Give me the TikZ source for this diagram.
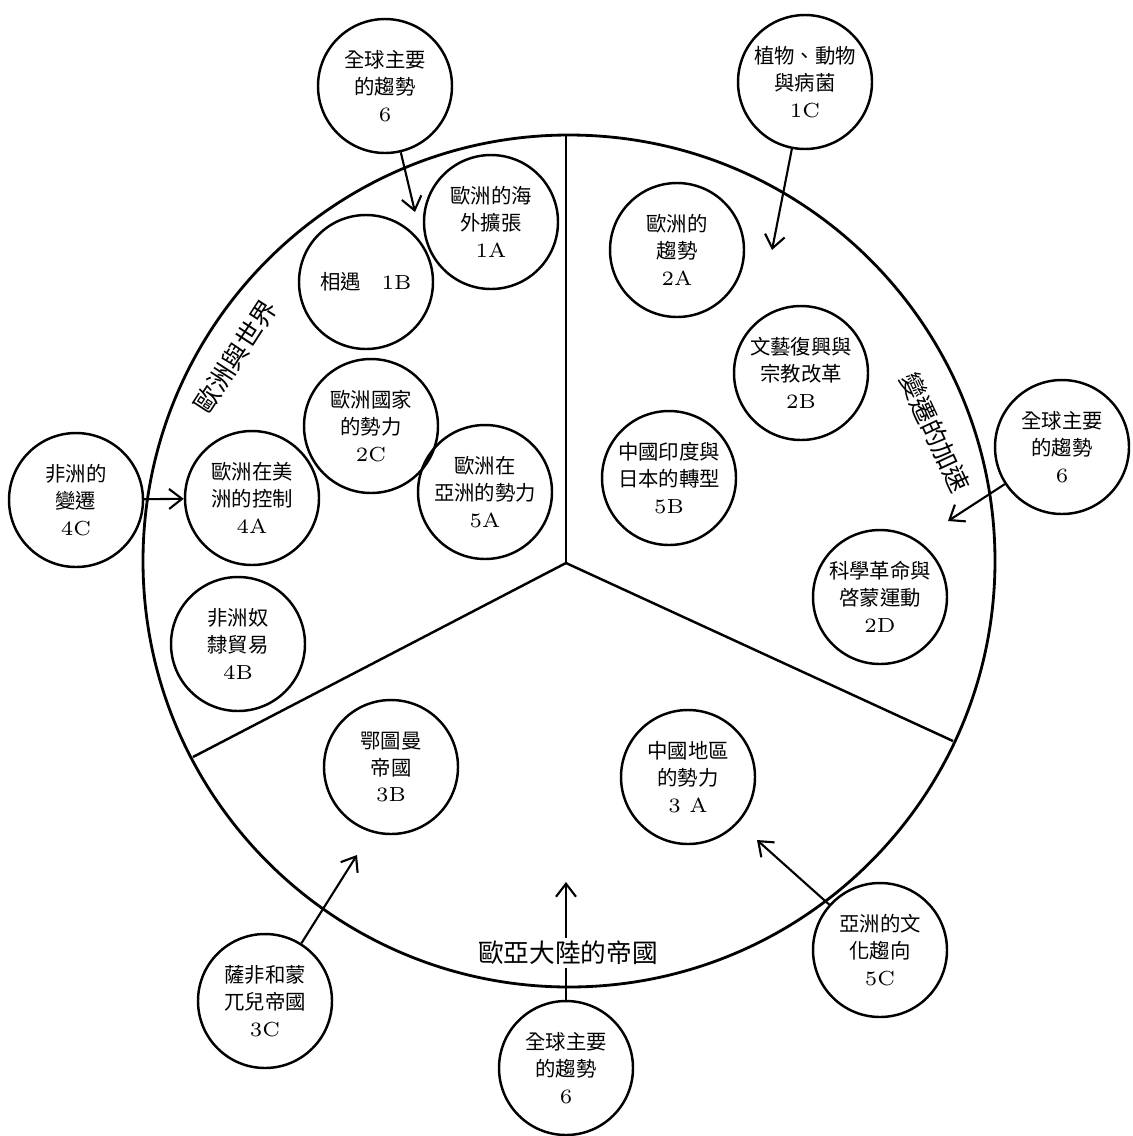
\documentclass[tikz,border=0pt]{standalone}
\usepackage{fontspec}
\newfontfamily\cjk{Noto Sans CJK TC}
\usetikzlibrary{arrows.meta}
\newcommand{\topicno}[1]{{\rmfamily #1}}

\begin{document}
\begin{tikzpicture}[
        x=0.1mm, y=-0.1mm,
        topic/.style={circle, draw, line width=0.7pt, minimum size=13.4mm, inner sep=0pt, align=center, font=\fontsize{5.8}{7.6}\selectfont\cjk},
        part/.style={font=\fontsize{7.3}{8}\selectfont\cjk, inner sep=1pt},
        link/.style={line width=0.6pt, -{Straight Barb[length=1.3mm,width=2mm]}}
    ]
        \useasboundingbox (0,0) rectangle (1132,1136);

        % the wheel and its three parts
        \node [circle, draw, line width=0.8pt, minimum size=85.2mm, inner sep=0pt] (wheel) at (569,561) {};
        \coordinate (hub) at (566,563);
        \coordinate (rimtop) at (566,135);
        \coordinate (rimleft) at (193,757);
        \coordinate (rimright) at (953,741);
        \draw [line width=0.7pt] (hub) -- (rimtop);
        \draw [line width=0.7pt] (hub) -- (rimleft);
        \draw [line width=0.7pt] (hub) -- (rimright);

        % topics inside
        \node [topic] (t1a) at (491,222) {歐洲的海\\外擴張\\\topicno{1A}};
        \node [topic] (t1b) at (366,282) {相遇\quad\topicno{1B}};
        \node [topic] (t2c) at (371,426) {歐洲國家\\的勢力\\\topicno{2C}};
        \node [topic] (t4a) at (252,498) {歐洲在美\\洲的控制\\\topicno{4A}};
        \node [topic] (t5a) at (485,492) {歐洲在\\亞洲的勢力\\\topicno{5A}};
        \node [topic] (t4b) at (238,644) {非洲奴\\隸貿易\\\topicno{4B}};
        \node [topic] (t2a) at (677,250) {歐洲的\\趨勢\\\topicno{2A}};
        \node [topic] (t2b) at (801,373) {文藝復興與\\宗教改革\\\topicno{2B}};
        \node [topic] (t5b) at (669,478) {中國印度與\\日本的轉型\\\topicno{5B}};
        \node [topic] (t2d) at (880,597) {科學革命與\\啓蒙運動\\\topicno{2D}};
        \node [topic] (t3b) at (391,767) {鄂圖曼\\帝國\\\topicno{3B}};
        \node [topic] (t3a) at (688,777) {中國地區\\的勢力\\\topicno{3 A}};

        % topics outside
        \node [topic] (t6top) at (385,86) {全球主要\\的趨勢\\\topicno{6}};
        \node [topic] (t1c) at (805,82) {植物、動物\\與病菌\\\topicno{1C}};
        \node [topic] (t6right) at (1062,447) {全球主要\\的趨勢\\\topicno{6}};
        \node [topic] (t4c) at (76,500) {非洲的\\變遷\\\topicno{4C}};
        \node [topic] (t3c) at (265,1001) {薩非和蒙\\兀兒帝國\\\topicno{3C}};
        \node [topic] (t5c) at (880,950) {亞洲的文\\化趨向\\\topicno{5C}};
        \node [topic] (t6bottom) at (566,1068) {全球主要\\的趨勢\\\topicno{6}};

        % arrow ends
        \coordinate (e6top) at (415,212);
        \coordinate (e1c) at (772,250);
        \coordinate (e6right) at (948,521);
        \coordinate (e3c) at (357,855);
        \coordinate (e5c) at (757,840);
        \coordinate (e6bottom) at (566,882);

        \draw [link] (t6top) -- (e6top);
        \draw [link] (t1c) -- (e1c);
        \draw [link] (t6right) -- (e6right);
        \draw [link] (t4c) -- (t4a);
        \draw [link] (t3c) -- (e3c);
        \draw [link] (t5c) -- (e5c);
        \draw [link] (t6bottom) -- (e6bottom);

        % names of the parts
        \node [part, rotate=57] (europe) at (235,356) {歐洲與世界};
        \node [part, rotate=-65] (change) at (935,433) {變遷的加速};
        \node [part, fill=white] (eurasia) at (568,953) {歐亞大陸的帝國};
    \end{tikzpicture}
\end{document}
